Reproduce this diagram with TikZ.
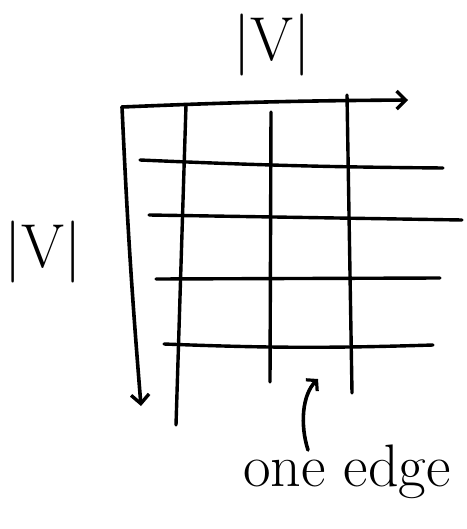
\documentclass[tikz,border=0pt]{standalone}
\usepackage{tikz}
\usetikzlibrary{arrows.meta}

\begin{document}
\begin{tikzpicture}[x=1pt,y=-1pt,line width=3.6pt,line cap=round,line join=round,
  every node/.style={inner sep=0pt,outer sep=3pt},
  lbl/.style={font=\fontsize{62}{62}\selectfont},
  axis/.style={-{Straight Barb[length=9pt,width=18pt,line width=3.4pt]}},
  gridline/.style={line width=3.4pt}]
  \useasboundingbox (0,0) rectangle (466,529);
  % labels
  \node[lbl] (colsize) at (272,45) {|V|};
  \node[lbl] (rowsize) at (43,252) {|V|};
  \node[font=\fontsize{60}{60}\selectfont] (note) at (347,472) {one edge};
  % matrix axes
  \coordinate (origin) at (122,107);
  \coordinate (xend) at (408,100);
  \coordinate (yend) at (141,406);
  \draw[axis] (origin) to[bend left=1] (xend);
  \draw[axis] (origin) to[bend right=1] (yend);
  % columns
  \coordinate (c1a) at (186,105); \coordinate (c1b) at (176,425);
  \coordinate (c2a) at (271,112); \coordinate (c2b) at (270,382);
  \coordinate (c3a) at (347,95);  \coordinate (c3b) at (352,393);
  \draw[gridline] (c1a) -- (c1b);
  \draw[gridline] (c2a) -- (c2b);
  \draw[gridline] (c3a) -- (c3b);
  % rows
  \coordinate (r1a) at (140,160); \coordinate (r1b) at (443,168);
  \coordinate (r2a) at (149,215); \coordinate (r2b) at (462,220);
  \coordinate (r3a) at (156,279); \coordinate (r3b) at (440,278);
  \coordinate (r4a) at (164,344); \coordinate (r4b) at (433,345);
  \draw[gridline] (r1a) to[bend right=1] (r1b);
  \draw[gridline] (r2a) -- (r2b);
  \draw[gridline] (r3a) -- (r3b);
  \draw[gridline] (r4a) to[bend right=2] (r4b);
  % pointer to one cell
  \coordinate (cell) at (318,379);
  \coordinate (tail) at (308,450);
  \draw[-{Straight Barb[length=7pt,width=16pt,line width=3.2pt]}] (tail)
    .. controls (300,425) and (302,395) .. (cell);
\end{tikzpicture}
\end{document}
